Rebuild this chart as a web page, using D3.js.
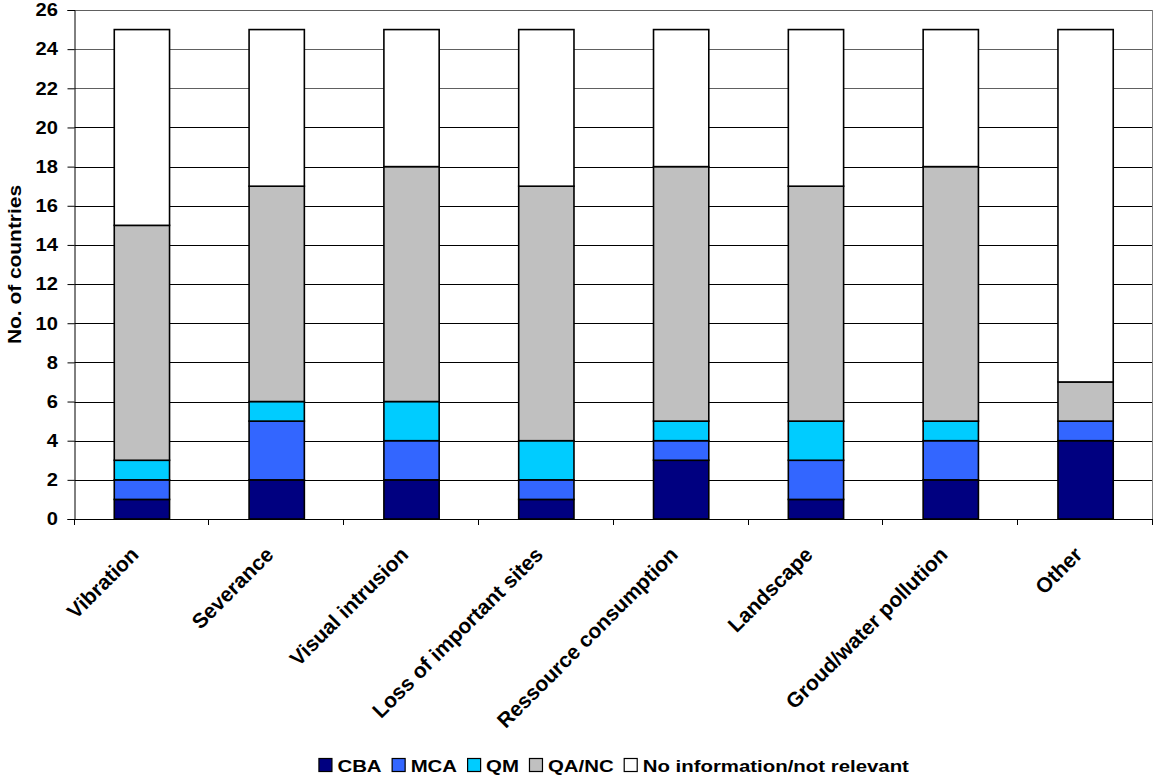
<!DOCTYPE html>
<html>
<head>
<meta charset="utf-8">
<script src="https://cdn.jsdelivr.net/npm/d3@7"></script>
<style>
  html, body { margin: 0; padding: 0; background: #fff; }
  svg { display: block; }
  text { font-family: "Liberation Sans", Arial, sans-serif; font-weight: bold; fill: #000; }
</style>
</head>
<body>
<svg id="chart" width="1154" height="779"></svg>
<script>
const categories = ["Vibration", "Severance", "Visual intrusion", "Loss of important sites",
  "Ressource consumption", "Landscape", "Groud/water pollution", "Other"];
const seriesNames = ["CBA", "MCA", "QM", "QA/NC", "No information/not relevant"];
const seriesColors = ["#000080", "#3366FF", "#00CCFF", "#C0C0C0", "#FFFFFF"];
const cba   = [1, 2, 2, 1, 3, 1, 2, 4];
const mca   = [1, 3, 2, 1, 1, 2, 2, 1];
const qm    = [1, 1, 2, 2, 1, 2, 1, 0];
const qanc  = [12, 11, 12, 13, 13, 12, 13, 2];
const noinf = [10, 8, 7, 8, 7, 8, 7, 18];
const yTicks = [0, 2, 4, 6, 8, 10, 12, 14, 16, 18, 20, 22, 24, 26];
const yTitle = "No. of countries";

const seriesValues = [cba, mca, qm, qanc, noinf];
const rows = categories.map((c, i) => {
  const r = { cat: c };
  seriesNames.forEach((s, j) => r[s] = seriesValues[j][i]);
  return r;
});

const svg = d3.select("#chart");
const L = 74.5, R = 1153, T = 10, B = 519;
const SX = 1.2; // horizontal glyph stretch

const x = d3.scaleBand().domain(categories).range([L, R]).paddingInner(0.59).paddingOuter(0.295);
const xCat = d3.scaleBand().domain(categories).range([L, R]).padding(0);
const y = d3.scaleLinear().domain([0, 26]).range([B, T]);

// gridlines
svg.append("g").selectAll("line").data(yTicks.filter(v => v > 0)).join("line")
  .attr("x1", L).attr("x2", R)
  .attr("y1", d => Math.round(y(d)) + 0.5).attr("y2", d => Math.round(y(d)) + 0.5)
  .attr("stroke", d => d >= 22 ? "#606060" : "#000").attr("stroke-width", 1);
// right border
svg.append("line").attr("x1", R - 0.5).attr("x2", R - 0.5).attr("y1", T).attr("y2", B)
  .attr("stroke", "#808080").attr("stroke-width", 1);

// stacked bars
const stack = d3.stack().keys(seriesNames)(rows);
svg.append("g").selectAll("g").data(stack).join("g")
  .attr("fill", (d, i) => seriesColors[i])
  .selectAll("rect").data(d => d.filter(p => p[1] - p[0] > 0)).join("rect")
  .attr("x", d => x(d.data.cat))
  .attr("width", x.bandwidth())
  .attr("y", d => y(d[1]))
  .attr("height", d => y(d[0]) - y(d[1]))
  .attr("stroke", "#000").attr("stroke-width", 1.6);

// y axis
const yAxis = svg.append("g").attr("transform", `translate(${L},0)`)
  .call(d3.axisLeft(y).tickValues(yTicks).tickSize(7).tickFormat(""));
yAxis.select(".domain").attr("stroke", "#000");
yAxis.selectAll(".tick line").attr("stroke", "#000");
svg.append("g").selectAll("g").data(yTicks).join("g")
  .attr("transform", d => `translate(58,${y(d)}) scale(1.15,1)`)
  .append("text").attr("text-anchor", "end").attr("dy", "0.36em")
  .style("font-size", "17.5px").text(d => d);

// x axis (ticks at category boundaries)
const xb = categories.map(c => xCat(c)).concat([R]);
const xa = svg.append("g");
xa.append("line").attr("x1", L).attr("x2", R).attr("y1", B + 0.5).attr("y2", B + 0.5).attr("stroke", "#000");
xa.selectAll("line.tk").data(xb).join("line").attr("class", "tk")
  .attr("x1", d => Math.round(d) - 0.5).attr("x2", d => Math.round(d) - 0.5)
  .attr("y1", B).attr("y2", B + 6).attr("stroke", "#000");

// x labels
svg.append("g").selectAll("g").data(categories).join("g")
  .attr("transform", c => `translate(${xCat(c) + xCat.bandwidth() / 2 - 2},556) rotate(-45)`)
  .append("text").attr("text-anchor", "end").style("font-size", "21px").text(c => c);

// y title
svg.append("g").attr("transform", `translate(20.5,${(T + B) / 2}) rotate(-90) scale(1.1,1)`)
  .append("text").attr("text-anchor", "middle").style("font-size", "19px").text(yTitle);

// legend
const lg = svg.append("g");
const items = seriesNames.map((s, i) => {
  const g = lg.append("g");
  g.append("rect").attr("width", 13).attr("height", 13).attr("y", 758.5)
    .attr("fill", seriesColors[i]).attr("stroke", "#000").attr("stroke-width", 1.2);
  const tg = g.append("g");
  const t = tg.append("text").style("font-size", "17px").text(s);
  const w = t.node().getComputedTextLength() * SX;
  return { g, tg, w };
});
const gapSqText = 19, gapItem = 10;
let total = 0;
items.forEach((it, i) => { total += gapSqText + it.w + (i < items.length - 1 ? gapItem : 0); });
let cx = (L + R) / 2 - total / 2;
items.forEach(it => {
  it.g.select("rect").attr("x", cx + 0.5);
  it.tg.attr("transform", `translate(${cx + gapSqText},771.5) scale(${SX},1)`);
  cx += gapSqText + it.w + gapItem;
});
</script>
</body>
</html>
